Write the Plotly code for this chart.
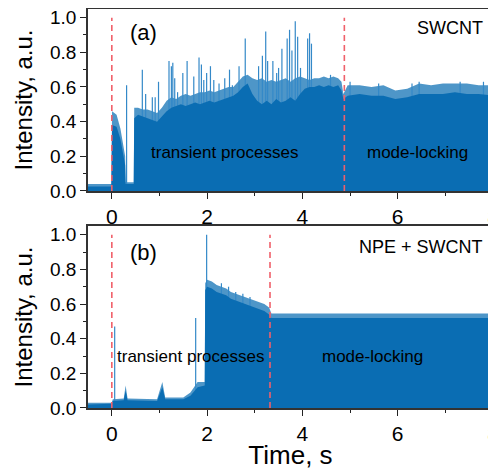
import plotly.graph_objects as go

# ---------------- Panel (a): SWCNT ----------------
a_t    = [-0.5, -0.01, 0.005, 0.10, 0.18, 0.24, 0.28, 0.29, 0.46, 0.47, 0.55, 0.65, 0.75, 0.85, 0.95, 1.05, 1.15, 1.25, 1.35, 1.45, 1.55, 1.65, 1.75, 1.85, 1.95, 2.05, 2.15, 2.25, 2.35, 2.45, 2.55, 2.65, 2.75, 2.85, 2.95, 3.05, 3.15, 3.25, 3.35, 3.45, 3.55, 3.65, 3.75, 3.85, 3.95, 4.05, 4.15, 4.25, 4.35, 4.45, 4.55, 4.65, 4.75, 4.82, 4.86, 4.95, 5.20, 5.45, 5.70, 5.95, 6.20, 6.45, 6.70, 6.95, 7.20, 7.45, 7.70, 8.00]
a_low  = [0.025, 0.025, 0.38, 0.37, 0.30, 0.22, 0.15, 0.04, 0.04, 0.42, 0.44, 0.43, 0.42, 0.41, 0.40, 0.43, 0.46, 0.48, 0.49, 0.50, 0.49, 0.50, 0.51, 0.50, 0.51, 0.52, 0.51, 0.52, 0.53, 0.54, 0.55, 0.57, 0.60, 0.62, 0.56, 0.52, 0.50, 0.52, 0.50, 0.53, 0.51, 0.52, 0.54, 0.52, 0.56, 0.59, 0.60, 0.60, 0.61, 0.60, 0.61, 0.60, 0.61, 0.58, 0.53, 0.55, 0.56, 0.55, 0.55, 0.53, 0.54, 0.56, 0.56, 0.56, 0.57, 0.56, 0.56, 0.55]
a_high = [0.040, 0.040, 0.46, 0.44, 0.36, 0.26, 0.20, 0.05, 0.05, 0.48, 0.48, 0.47, 0.47, 0.46, 0.45, 0.48, 0.52, 0.54, 0.53, 0.55, 0.56, 0.55, 0.56, 0.57, 0.57, 0.58, 0.57, 0.58, 0.59, 0.60, 0.60, 0.63, 0.66, 0.67, 0.65, 0.64, 0.65, 0.63, 0.64, 0.63, 0.64, 0.65, 0.63, 0.65, 0.66, 0.65, 0.64, 0.65, 0.65, 0.66, 0.65, 0.66, 0.65, 0.63, 0.56, 0.61, 0.61, 0.60, 0.61, 0.58, 0.59, 0.62, 0.61, 0.62, 0.62, 0.62, 0.61, 0.61]
a_spike_t = [0.31, 0.64, 0.71, 0.85, 0.91, 0.98, 1.20, 1.25, 1.28, 1.32, 1.38, 1.49, 1.58, 1.72, 1.83, 1.88, 1.93, 1.99, 2.07, 2.14, 2.25, 2.37, 2.47, 2.53, 2.67, 2.80, 3.08, 3.16, 3.23, 3.27, 3.38, 3.46, 3.50, 3.57, 3.68, 3.73, 3.78, 3.85, 3.90, 3.96, 4.11, 4.15, 4.19, 4.59, 5.00, 5.60, 6.30, 6.45, 7.31, 7.80]
a_spike_v = [0.61, 0.70, 0.56, 0.54, 0.54, 0.63, 0.75, 0.72, 0.74, 0.65, 0.57, 0.68, 0.75, 0.66, 0.77, 0.73, 0.64, 0.68, 0.72, 0.64, 0.62, 0.65, 0.70, 0.61, 0.72, 0.88, 0.72, 0.78, 0.92, 0.75, 0.75, 0.68, 0.71, 0.82, 0.88, 0.93, 0.81, 0.98, 0.89, 0.71, 0.88, 0.91, 0.85, 0.67, 0.63, 0.62, 0.62, 0.63, 0.63, 0.63]
a_bounds = [0.0, 4.88]

# ---------------- Panel (b): NPE + SWCNT ----------------
b_t    = [-0.5, 0.00, 0.02, 0.25, 0.29, 0.33, 0.95, 1.06, 1.12, 1.50, 1.65, 1.80, 1.95, 1.96, 2.00, 2.10, 2.20, 2.30, 2.40, 2.50, 2.60, 2.70, 2.80, 2.90, 3.00, 3.10, 3.20, 3.30, 3.35, 4.50, 6.00, 7.00, 8.00]
b_low  = [0.020, 0.025, 0.040, 0.045, 0.10, 0.045, 0.040, 0.12, 0.05, 0.05, 0.07, 0.12, 0.13, 0.68, 0.70, 0.69, 0.67, 0.66, 0.65, 0.63, 0.62, 0.61, 0.60, 0.59, 0.58, 0.57, 0.56, 0.54, 0.52, 0.52, 0.52, 0.52, 0.52]
b_high = [0.030, 0.030, 0.050, 0.055, 0.13, 0.055, 0.050, 0.15, 0.06, 0.06, 0.09, 0.15, 0.15, 0.72, 0.74, 0.73, 0.71, 0.70, 0.69, 0.67, 0.66, 0.65, 0.64, 0.63, 0.62, 0.61, 0.60, 0.58, 0.545, 0.545, 0.545, 0.545, 0.545]
b_spike_t = [0.06, 1.76, 1.99, 2.30, 2.45, 2.60, 2.75, 2.90]
b_spike_v = [0.47, 0.52, 1.00, 0.72, 0.70, 0.67, 0.66, 0.64]
b_bounds = [0.0, 3.32]

x_ticks = [0, 2, 4, 6, 8]
y_ticks = [0.0, 0.2, 0.4, 0.6, 0.8, 1.0]

BLUE = "#0a6db3"
FRINGE = "rgba(10,109,179,0.72)"
SPIKE = "#3489c8"
RED = "#f0606a"
FONT = "Liberation Sans, Arial, sans-serif"

fig = go.Figure()

def add_panel(t, low, high, st, sv, xa, ya):
    fig.add_trace(go.Scatter(x=t, y=high, mode="lines", line=dict(width=0, color=BLUE),
                             fill="tozeroy", fillcolor=FRINGE, xaxis=xa, yaxis=ya,
                             hoverinfo="skip", showlegend=False))
    xs, ys = [], []
    for tt, vv in zip(st, sv):
        xs += [tt, tt, None]
        ys += [0, vv, None]
    fig.add_trace(go.Scatter(x=xs, y=ys, mode="lines", line=dict(width=1.2, color=SPIKE),
                             xaxis=xa, yaxis=ya, hoverinfo="skip", showlegend=False))
    fig.add_trace(go.Scatter(x=t, y=low, mode="lines", line=dict(width=0, color=BLUE),
                             fill="tozeroy", fillcolor=BLUE, xaxis=xa, yaxis=ya,
                             hoverinfo="skip", showlegend=False))

add_panel(a_t, a_low, a_high, a_spike_t, a_spike_v, "x", "y")
add_panel(b_t, b_low, b_high, b_spike_t, b_spike_v, "x2", "y2")

for xb in a_bounds:
    fig.add_shape(type="line", x0=xb, x1=xb, y0=0, y1=1.0, xref="x", yref="y",
                  line=dict(color=RED, width=1.6, dash="6px,4px"))
for xb in b_bounds:
    fig.add_shape(type="line", x0=xb, x1=xb, y0=0, y1=1.0, xref="x2", yref="y2",
                  line=dict(color=RED, width=1.6, dash="6px,4px"))

ann = [
    ("(a)", 0.67, 0.913, "x", "y", 22, "center"),
    ("SWCNT", 7.83, 0.94, "x", "y", 18, "right"),
    ("transient processes", 2.37, 0.22, "x", "y", 17, "center"),
    ("mode-locking", 6.41, 0.22, "x", "y", 17, "center"),
    ("(b)", 0.67, 0.90, "x2", "y2", 22, "center"),
    ("NPE + SWCNT", 7.83, 0.93, "x2", "y2", 18, "right"),
    ("transient processes", 1.65, 0.30, "x2", "y2", 17, "center"),
    ("mode-locking", 5.47, 0.30, "x2", "y2", 17, "center"),
]
for txt, x, y, xr, yr, sz, xa in ann:
    fig.add_annotation(text=txt, x=x, y=y, xref=xr, yref=yr, showarrow=False,
                       xanchor=xa, yanchor="middle", font=dict(size=sz, color="black", family=FONT))

xcommon = dict(range=[-0.5, 8], tickvals=x_ticks, ticks="outside", ticklen=6, tickwidth=1.2,
               tickcolor="#222", showline=True, linecolor="#333", linewidth=1.5, mirror=True,
               showgrid=False, zeroline=False, automargin=False, ticklabeloverflow="allow",
               tickfont=dict(size=21, family=FONT, color="black"),
               minor=dict(ticks="outside", ticklen=3, tickwidth=1, tickcolor="#222", dtick=1, tick0=0))
ycommon = dict(range=[0, 1.05], tickvals=y_ticks, tickformat=".1f", ticks="outside", ticklen=6,
               tickwidth=1.2, tickcolor="#222", showline=True, linecolor="#333", linewidth=1.5,
               mirror=True, showgrid=False, zeroline=False, automargin=False,
               ticklabeloverflow="allow",
               tickfont=dict(size=19, family=FONT, color="black"),
               title=dict(text="Intensity, a.u.", font=dict(size=24, family=FONT, color="black"), standoff=11),
               minor=dict(ticks="outside", ticklen=3, tickwidth=1, tickcolor="#222", dtick=0.1, tick0=0))

# The page body has an 8px default margin, so the figure is sized to fit the 496x470 window.
fig.update_layout(
    width=488, height=462,
    margin=dict(l=80, r=3, t=1, b=62, autoexpand=False),
    paper_bgcolor="white", plot_bgcolor="white",
    font=dict(family=FONT, color="black"),
    xaxis=dict(**xcommon, anchor="y", domain=[0, 1]),
    yaxis=dict(**ycommon, anchor="x", domain=[0.544, 1]),
    xaxis2=dict(**xcommon, anchor="y2", domain=[0, 1],
                title=dict(text="Time, s", font=dict(size=26, family=FONT, color="black"), standoff=2)),
    yaxis2=dict(**ycommon, anchor="x2", domain=[0, 0.456]),
)

fig.write_html("out.html")
